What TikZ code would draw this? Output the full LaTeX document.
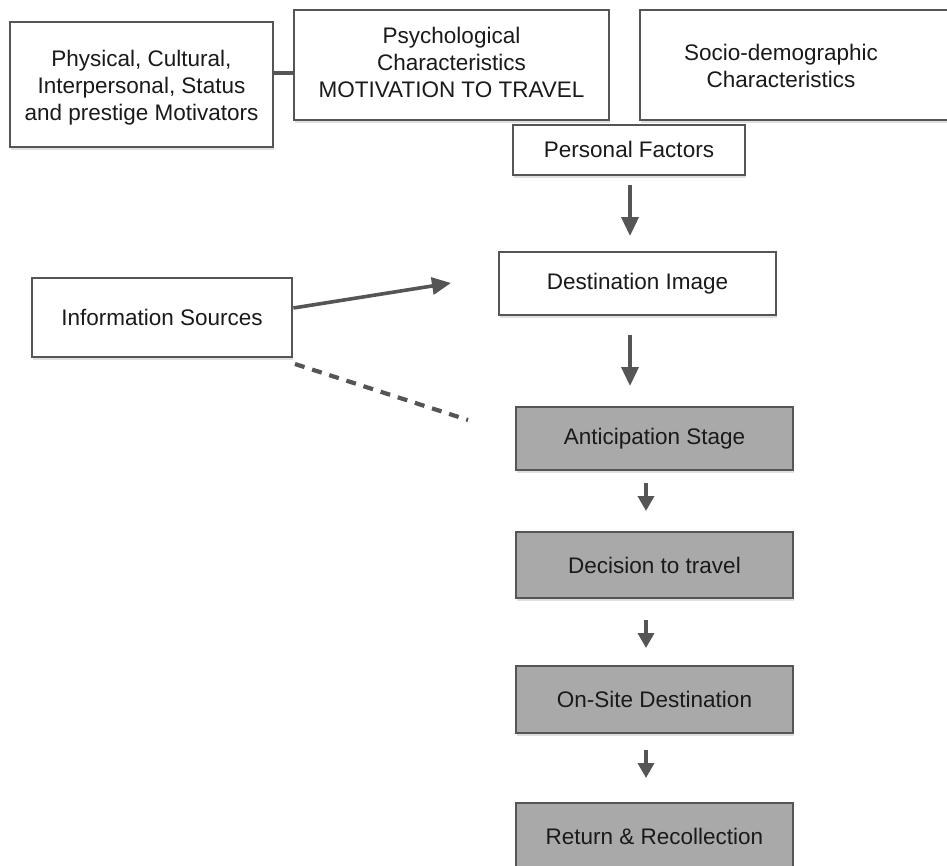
\documentclass[tikz,border=0pt]{standalone}
\usepackage{fontspec}
\setmainfont{Liberation Sans}
\usetikzlibrary{arrows.meta,shadows}
\definecolor{edge}{HTML}{555555}
\definecolor{stagefill}{HTML}{A9A9A9}
\definecolor{ink}{HTML}{1A1A1A}
\tikzset{
  label text/.style={text=ink, align=center, font=\fontsize{22.5}{27}\selectfont},
  box/.style={draw=edge, line width=2.8pt, fill=white, label text, inner sep=0pt,
    drop shadow={opacity=0.25, shadow xshift=1pt, shadow yshift=-3pt}},
  stage/.style={box, fill=stagefill},
  link/.style={draw=edge, line width=3.6pt},
  flow/.style={link, -{Triangle[width=17pt,length=19pt]}},
  smallflow/.style={link, -{Triangle[width=16pt,length=15pt]}},
}
\newcommand{\boxat}[6]{% name, style, x1, y1, x2, y2
  \node[#2, minimum width={#5-#3}, minimum height={#6-#4}] (#1) at ({(#3+#5)/2},{(#4+#6)/2})}
\begin{document}
\begin{tikzpicture}[x=1pt,y=-1pt]
\useasboundingbox (0,0) rectangle (947,865);

% top row: factors that shape the person
\boxat{motiv}{box}{10}{22}{273}{147}{};
\node[label text] (motivtxt) at (141.5,88) {Physical, Cultural,\\Interpersonal, Status\\and prestige Motivators};
\boxat{psych}{box}{294}{10}{609}{120}{};
\node[label text] (psychtxt) at (451.5,62) {Psychological\\Characteristics\\MOTIVATION TO TRAVEL};
\boxat{socio}{box}{640}{10}{952}{120}{};
\node[label text] (sociotxt) at (781,66) {Socio-demographic\\Characteristics};
\boxat{personal}{box}{513}{125}{745}{175}{};
\node[label text] (personaltxt) at (629,149) {Personal Factors};

% image formation
\boxat{image}{box}{499}{252}{776}{315}{Destination Image};
\boxat{info}{box}{32}{278}{292}{357}{Information Sources};

% travel stages
\boxat{antic}{stage}{516}{407}{793}{470}{Anticipation Stage};
\boxat{decide}{stage}{516}{532}{793}{598}{Decision to travel};
\boxat{onsite}{stage}{516}{666}{793}{733}{On-Site Destination};
\boxat{ret}{stage}{516}{803}{793}{880}{};
\node[label text] (rettxt) at (654.5,836) {Return \& Recollection};

% connectors
\draw[link] (motiv.east |- 0,73) -- (psych.west |- 0,73);
\coordinate (a1s) at (630,185); \coordinate (a1e) at (630,236);
\draw[flow] (a1s) -- (a1e);
\coordinate (a2s) at (630,335); \coordinate (a2e) at (630,386);
\draw[flow] (a2s) -- (a2e);
\coordinate (infoTip) at (451,283);
\draw[flow] (info.east |- 0,308) -- (infoTip);
\coordinate (dashEnd) at (468,420);
\draw[link, line width=4.2pt, dash pattern=on 10pt off 8pt] (295,364) -- (dashEnd);
\coordinate (a3s) at (646,483); \coordinate (a3e) at (646,511);
\draw[smallflow] (a3s) -- (a3e);
\coordinate (a4s) at (646,620); \coordinate (a4e) at (646,648);
\draw[smallflow] (a4s) -- (a4e);
\coordinate (a5s) at (646,750); \coordinate (a5e) at (646,778);
\draw[smallflow] (a5s) -- (a5e);
\end{tikzpicture}
\end{document}
